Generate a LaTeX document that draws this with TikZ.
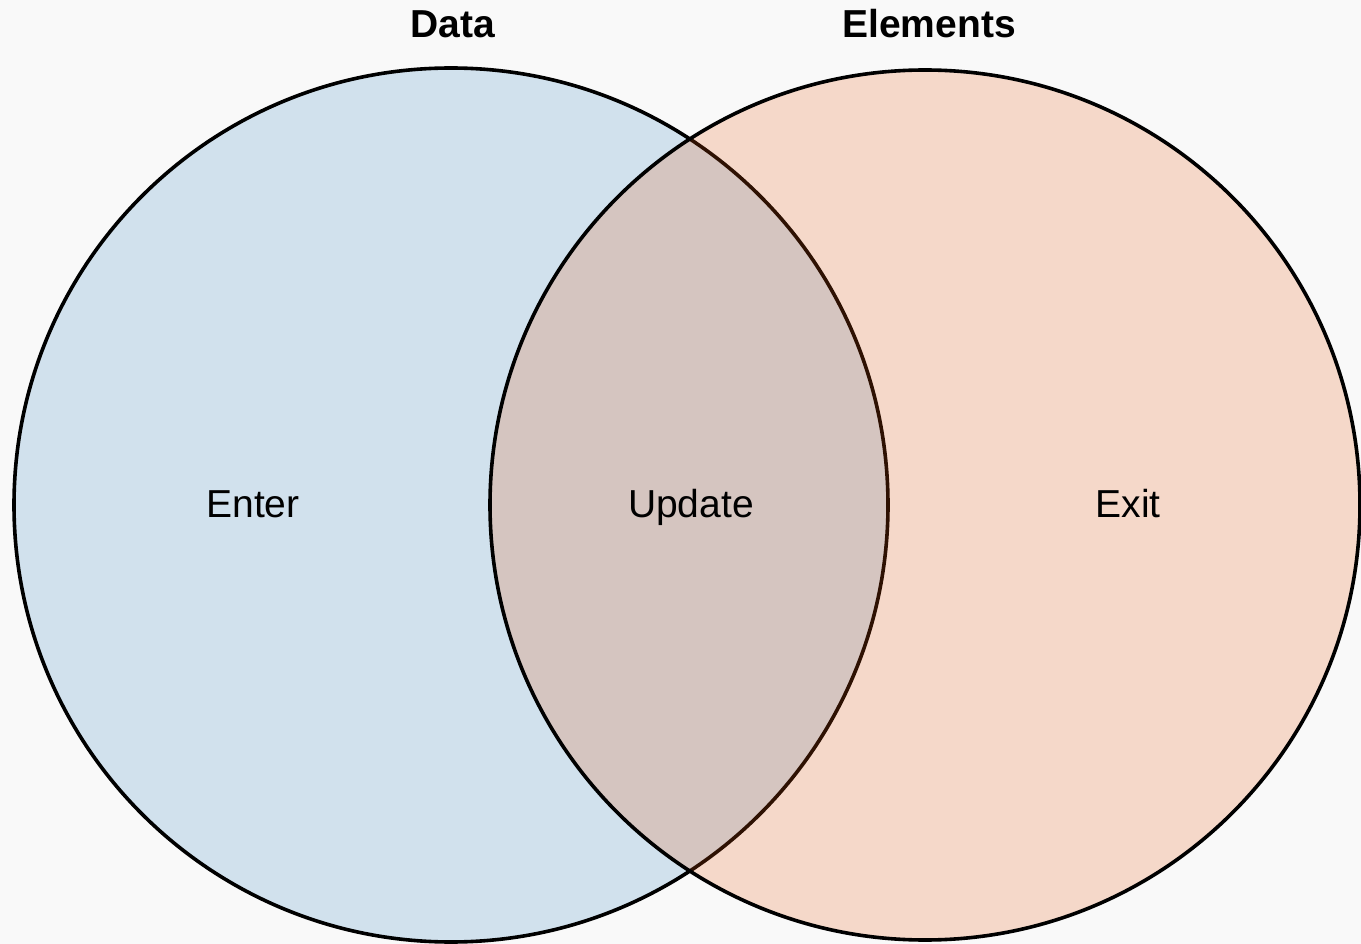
\documentclass[tikz,border=0pt]{standalone}
\usepackage{fontspec}
\setmainfont{Liberation Sans}
\definecolor{bgc}{RGB}{249,249,249}
\definecolor{dblue}{RGB}{49,130,189}
\definecolor{dorange}{RGB}{230,85,13}
\tikzset{
  setcircle/.style={line width=3.6pt, draw=black, fill opacity=0.2},
  title/.style={anchor=base, font=\fontsize{39}{44}\selectfont\bfseries, inner sep=0pt},
  region/.style={anchor=base, font=\fontsize{39}{44}\selectfont, inner sep=0pt}
}
\begin{document}
\begin{tikzpicture}[x=1pt,y=-1pt]
\fill[bgc] (0,0) rectangle (1361,944);
\useasboundingbox (0,0) rectangle (1361,944);
\draw[setcircle, fill=dblue] (451,505) circle[radius=437];
\draw[setcircle, fill=dorange] (925,505) circle[radius=435];
\node[title] (data) at (453,38) {Data};
\node[title] (elements) at (929,38) {Elements};
\node[region] (enter) at (253,517) {Enter};
\node[region] (update) at (691,517) {Update};
\node[region] (exit) at (1128,517) {Exit};
\end{tikzpicture}
\end{document}
